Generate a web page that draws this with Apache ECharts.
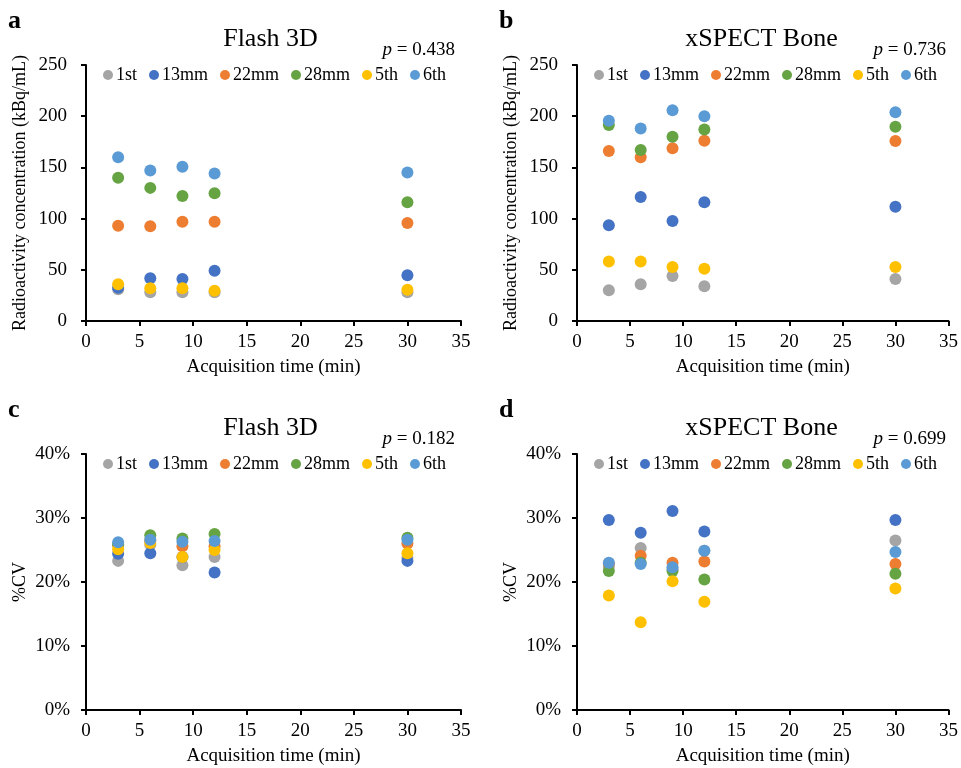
<!DOCTYPE html>
<html>
<head>
<meta charset="utf-8">
<script src="https://cdn.jsdelivr.net/npm/echarts@6/dist/echarts.min.js"></script>
<style>html,body{margin:0;padding:0;background:#fff;}#c{width:961px;height:768px;}</style>
</head>
<body>
<div id="c"></div>
<script>
// ---- data ----
const seriesNames = ['1st', '13mm', '22mm', '28mm', '5th', '6th'];
const seriesColors = ['#A5A5A5', '#4472C4', '#ED7D31', '#66A343', '#FFC000', '#5B9BD5'];
const times = [3, 6, 9, 12, 30];
const xTicks = [0, 5, 10, 15, 20, 25, 30, 35];

// a: Flash 3D, radioactivity concentration (kBq/mL)
const a1st  = [31, 28, 28, 28, 28];
const a13mm = [32.5, 41.7, 41, 49, 44.6];
const a22mm = [93, 92.5, 97, 97, 95.7];
const a28mm = [140, 130, 122, 124.7, 116];
const a5th  = [36, 32, 32, 29.6, 30.6];
const a6th  = [160, 147, 150.7, 144, 145];

// b: xSPECT Bone, radioactivity concentration (kBq/mL)
const b1st  = [30, 36, 44, 34, 41];
const b13mm = [93.5, 121, 97.6, 116, 111.6];
const b22mm = [166, 160, 168.6, 176, 175.8];
const b28mm = [191.4, 167, 180, 187, 189.8];
const b5th  = [58, 58, 52.7, 51, 52.7];
const b6th  = [195.6, 188, 205.7, 200, 203.8];

// c: Flash 3D, %CV
const c1st  = [23.3, 25.8, 22.6, 23.9, 23.8];
const c13mm = [24.4, 24.5, 23.9, 21.5, 23.3];
const c22mm = [25.8, 26.5, 25.6, 25.6, 26.0];
const c28mm = [25.9, 27.3, 26.8, 27.5, 26.9];
const c5th  = [25.1, 26.1, 23.9, 25.0, 24.5];
const c6th  = [26.2, 26.6, 26.3, 26.4, 26.6];

// d: xSPECT Bone, %CV
const d1st  = [22.4, 25.3, 22.0, 24.9, 26.5];
const d13mm = [29.7, 27.7, 31.1, 27.9, 29.7];
const d22mm = [22.9, 24.1, 23.0, 23.2, 22.8];
const d28mm = [21.7, 23.0, 21.7, 20.4, 21.3];
const d5th  = [17.9, 13.7, 20.1, 16.9, 19.0];
const d6th  = [23.0, 22.8, 22.3, 24.9, 24.7];

const panelLetters = ['a', 'b', 'c', 'd'];
const panelTitles = ['Flash 3D', 'xSPECT Bone', 'Flash 3D', 'xSPECT Bone'];
const pValues = ['0.438', '0.736', '0.182', '0.699'];
const concTicks = [0, 50, 100, 150, 200, 250];
const cvTicks = [0, 10, 20, 30, 40];

const panelData = [
  [a1st, a13mm, a22mm, a28mm, a5th, a6th],
  [b1st, b13mm, b22mm, b28mm, b5th, b6th],
  [c1st, c13mm, c22mm, c28mm, c5th, c6th],
  [d1st, d13mm, d22mm, d28mm, d5th, d6th]
];

// ---- layout ----
const FONT = 'Liberation Serif';
const gridPos = [
  {left: 86, top: 65, width: 375, height: 256},
  {left: 577, top: 65, width: 375, height: 256},
  {left: 86, top: 454, width: 375, height: 256},
  {left: 577, top: 454, width: 375, height: 256}
];
const isCV = [false, false, true, true];

const axisLineStyle = {show: true, lineStyle: {color: '#000', width: 2}};
const tickStyle = {show: true, inside: false, length: 5, lineStyle: {color: '#000', width: 2}};

const grids = [], xAxes = [], yAxes = [], series = [], legends = [], graphics = [];
gridPos.forEach((g, i) => {
  grids.push(Object.assign({containLabel: false}, g));
  xAxes.push({
    type: 'value', gridIndex: i, min: xTicks[0], max: xTicks[xTicks.length - 1], interval: 5,
    axisLine: axisLineStyle, axisTick: tickStyle, splitLine: {show: false},
    axisLabel: {fontFamily: FONT, fontSize: 19, color: '#000', margin: 12},
    name: 'Acquisition time (min)', nameLocation: 'middle', nameGap: 37,
    nameTextStyle: {fontFamily: FONT, fontSize: 19, color: '#000'}
  });
  const ticks = isCV[i] ? cvTicks : concTicks;
  yAxes.push({
    type: 'value', gridIndex: i, min: ticks[0], max: ticks[ticks.length - 1],
    interval: ticks[1] - ticks[0],
    axisLine: axisLineStyle, axisTick: tickStyle, splitLine: {show: false},
    axisLabel: {fontFamily: FONT, fontSize: 19, color: '#000', margin: isCV[i] ? 16 : 19,
      formatter: isCV[i] ? '{value}%' : '{value}'},
    name: isCV[i] ? '%CV' : 'Radioactivity concentration (kBq/mL)',
    nameLocation: 'middle', nameGap: 57,
    nameTextStyle: {fontFamily: FONT, fontSize: 18, color: '#000'}
  });
  panelData[i].forEach((vals, k) => {
    series.push({
      type: 'scatter', name: seriesNames[k], xAxisIndex: i, yAxisIndex: i,
      symbol: 'circle', symbolSize: 12,
      itemStyle: {color: seriesColors[k], opacity: 1},
      emphasis: {disabled: true},
      data: times.map((t, j) => [t, vals[j]])
    });
  });
  legends.push({
    data: seriesNames.slice(), left: g.left + 12, top: g.top - 4,
    icon: 'circle', itemWidth: 10, itemHeight: 10, itemGap: 12,
    textStyle: {fontFamily: FONT, fontSize: 18, color: '#000', padding: [0, 0, 0, -2]},
    selectedMode: false
  });
  const cx = g.left + g.width / 2;
  graphics.push({
    type: 'text', x: g.left - 78, y: g.top - 44,
    style: {text: panelLetters[i], fontFamily: FONT, fontSize: 26, fontWeight: 'bold', fill: '#000',
      align: 'left', verticalAlign: 'middle'}
  });
  graphics.push({
    type: 'text', x: cx - 3, y: g.top - 26,
    style: {text: panelTitles[i], fontFamily: FONT, fontSize: 26, fill: '#000',
      align: 'center', verticalAlign: 'middle'}
  });
  graphics.push({
    type: 'text', x: g.left + g.width - 6, y: g.top - 15,
    style: {text: '{i|p} = ' + pValues[i], fontFamily: FONT, fontSize: 19, fill: '#000',
      align: 'right', verticalAlign: 'middle',
      rich: {i: {fontFamily: FONT, fontSize: 19, fontStyle: 'italic', fill: '#000'}}}
  });
});

const chart = echarts.init(document.getElementById('c'), null, {renderer: 'canvas'});
chart.setOption({
  animation: false,
  backgroundColor: '#fff',
  grid: grids, xAxis: xAxes, yAxis: yAxes, legend: legends,
  series: series, graphic: graphics
});
</script>
</body>
</html>
